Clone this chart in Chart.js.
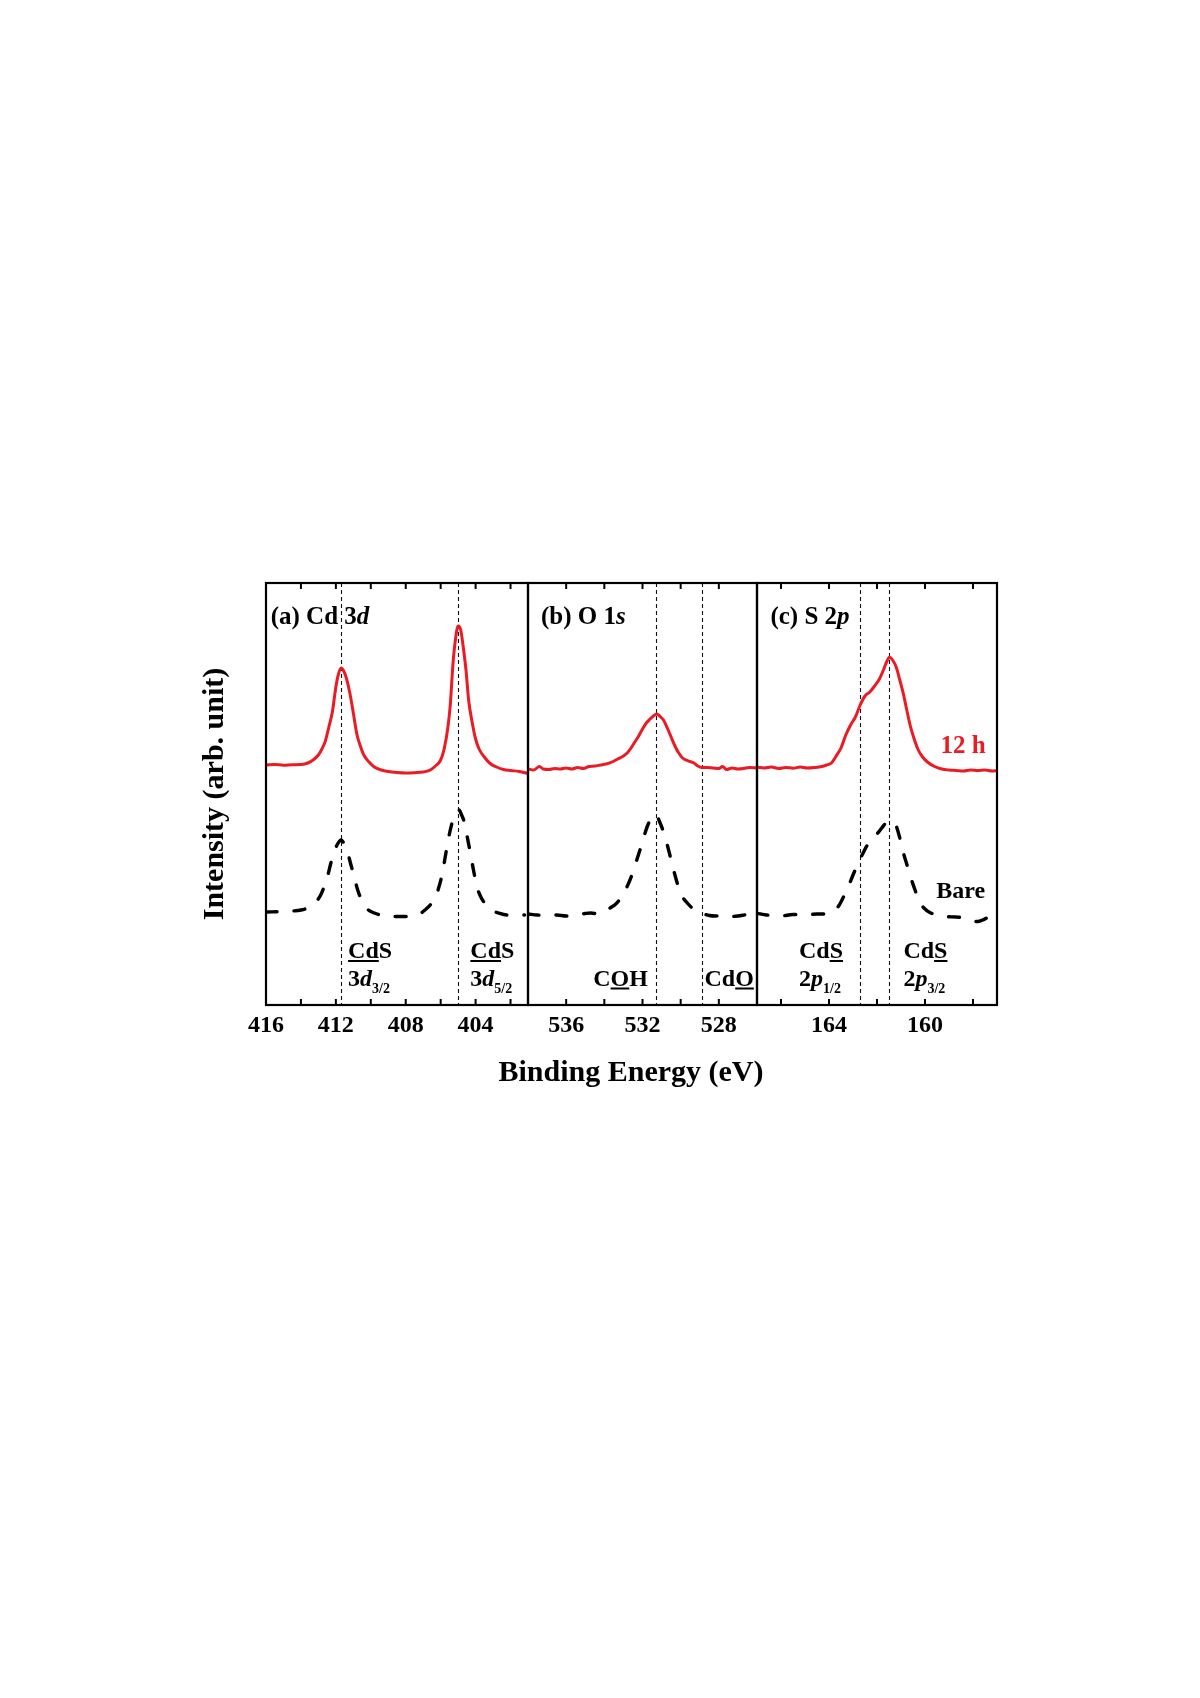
<!DOCTYPE html>
<html>
<head>
<meta charset="utf-8">
<script src="https://cdn.jsdelivr.net/npm/chart.js@4.4.1/dist/chart.umd.min.js"></script>
<style>
  body { margin: 0; background: #fff; }
  #wrap { position: relative; width: 1200px; height: 1698px; }
  canvas { position: absolute; left: 0; top: 0; }
</style>
</head>
<body>
<div id="wrap">
  <canvas id="panelA" width="1200" height="1698"></canvas>
  <canvas id="panelB" width="1200" height="1698"></canvas>
  <canvas id="panelC" width="1200" height="1698"></canvas>
</div>
<script>
// (a) Cd 3d
var cdE12h = [416.0, 415.5, 415.0, 414.5, 414.0, 413.6, 413.3, 413.0, 412.8, 412.6, 412.4, 412.2, 412.0, 411.85, 411.7, 411.55, 411.4, 411.2, 411.0, 410.8, 410.6, 410.4, 410.1, 409.8, 409.4, 409.0, 408.5, 408.0, 407.5, 407.0, 406.6, 406.3, 406.0, 405.8, 405.6, 405.45, 405.3, 405.15, 405.0, 404.85, 404.7, 404.55, 404.4, 404.2, 404.0, 403.8, 403.5, 403.2, 402.8, 402.4, 402.0, 401.5, 401.0];
var cdI12h = [240, 240.5, 239.8, 240.3, 240.5, 242, 245, 250, 256, 264, 278, 293, 318, 331, 337, 334, 327, 312, 292, 271, 259, 250, 243, 238, 235, 233.5, 232.5, 232, 232.3, 233, 235, 239, 245, 256, 276, 300, 340, 366, 379, 375, 357, 335, 305, 283, 266, 256, 248, 242, 238, 235.5, 234.5, 233.5, 231.5];
var cdEBare = [416.0, 415.0, 414.5, 414.0, 413.5, 413.2, 412.9, 412.7, 412.5, 412.3, 412.1, 411.9, 411.7, 411.55, 411.35, 411.15, 410.95, 410.75, 410.5, 410.2, 409.8, 409.3, 408.8, 408.2, 407.6, 407.2, 406.9, 406.6, 406.3, 406.1, 405.9, 405.7, 405.5, 405.3, 405.1, 404.95, 404.8, 404.65, 404.5, 404.3, 404.1, 403.9, 403.7, 403.4, 403.1, 402.7, 402.2, 401.7, 401.2];
var cdIBare = [93, 93.5, 94, 95, 98, 102, 109, 117, 127, 141, 153, 161, 165, 162, 154, 141, 128, 115, 104, 96, 92, 89.5, 88.5, 88.5, 89, 91, 95, 100, 108, 118, 132, 152, 171, 185, 193, 195, 190, 183, 170, 152, 133, 117, 108, 100, 95, 92, 90, 90, 90];

// (b) O 1s
var oE12h = [538.0, 537.7, 537.4, 537.2, 536.9, 536.6, 536.3, 536.0, 535.7, 535.4, 535.1, 534.8, 534.5, 534.2, 533.9, 533.6, 533.3, 533.0, 532.8, 532.6, 532.4, 532.2, 532.0, 531.8, 531.6, 531.4, 531.25, 531.1, 530.9, 530.7, 530.5, 530.3, 530.1, 529.9, 529.6, 529.3, 529.1, 528.9, 528.6, 528.3, 528.0, 527.8, 527.6, 527.3, 527.0, 526.7, 526.4, 526.0];
var oI12h = [236, 235, 238.5, 236, 235.5, 236.5, 236, 237, 236, 237.5, 236.5, 238.5, 239, 240, 241, 243, 246, 249, 252, 257, 263, 269, 276, 282, 286, 289.5, 291, 289, 285, 277, 268, 259, 252, 247, 244, 242, 239, 237.5, 237.5, 237, 236.5, 238.5, 235.5, 237, 236, 236.5, 237.5, 237];
var oEBare = [538.0, 537.5, 537.0, 536.5, 536.0, 535.5, 535.0, 534.7, 534.3, 534.0, 533.7, 533.4, 533.1, 532.9, 532.7, 532.5, 532.3, 532.1, 531.9, 531.7, 531.5, 531.3, 531.1, 530.9, 530.7, 530.5, 530.3, 530.1, 529.9, 529.7, 529.4, 529.1, 528.8, 528.5, 528.2, 527.8, 527.4, 527.0, 526.5, 526.0];
var oIBare = [91, 90, 89.5, 90, 89, 90, 91.5, 92, 91, 93, 97, 101, 108, 115, 123, 133, 145, 157, 170, 181, 188, 190.5, 183, 173, 160, 145, 130, 117, 108, 103, 97, 93, 91, 89.5, 89, 89.5, 88.5, 89, 90.5, 91];

// (c) S 2p
var sE12h = [167.0, 166.7, 166.4, 166.1, 165.8, 165.5, 165.2, 164.9, 164.6, 164.3, 164.1, 163.9, 163.7, 163.5, 163.3, 163.1, 162.9, 162.7, 162.5, 162.3, 162.1, 161.9, 161.75, 161.6, 161.48, 161.35, 161.2, 161.05, 160.9, 160.75, 160.6, 160.45, 160.3, 160.1, 159.9, 159.6, 159.3, 159.0, 158.7, 158.4, 158.1, 157.8, 157.5, 157.2, 157.0];
var sI12h = [237.7, 237, 238, 236.5, 237.5, 236.8, 238, 237, 237.5, 238.5, 240, 242, 249, 257, 270, 280, 288, 300, 309, 313, 319, 326, 334, 343, 347.7, 345, 338, 325, 311, 294, 278, 266, 256, 248, 243, 238.5, 236, 235, 234.5, 234, 235, 234.5, 235, 234, 234.5];
var sEBare = [167.0, 166.6, 166.0, 165.5, 165.0, 164.5, 164.1, 163.8, 163.6, 163.4, 163.2, 163.0, 162.8, 162.6, 162.4, 162.2, 162.0, 161.8, 161.6, 161.5, 161.35, 161.2, 161.05, 160.9, 160.75, 160.6, 160.4, 160.2, 160.0, 159.8, 159.5, 159.1, 158.7, 158.3, 158.0, 157.8, 157.6, 157.45];
var sIBare = [91.7, 90, 89, 90.5, 90, 91, 91, 94, 99, 108, 118, 130, 141, 151, 160, 166, 171, 177, 183, 184.3, 183, 179, 167, 152, 140, 128, 114, 102, 96, 92.5, 90, 88.3, 88, 86.5, 84, 83.5, 85, 86.7];

// axes: ticks, labelled ticks and peak reference lines
var cdTicks = [402, 404, 406, 408, 410, 412, 414, 416];
var cdLabels = [404, 408, 412, 416];
var cdPeaks = [411.7, 405.0];
var oTicks = [528, 530, 532, 534, 536];
var oLabels = [528, 532, 536];
var oPeaks = [531.3, 528.9];
var sTicks = [158, 160, 162, 164, 166];
var sLabels = [160, 164];
var sPeaks = [162.7, 161.5];

var FAMILY = '"Liberation Serif", "Times New Roman", serif';
var RED = '#ea1b23';
Chart.defaults.font.family = FAMILY;

function pts(xs, ys) {
  return xs.map(function (x, i) { return { x: x, y: ys[i] }; });
}

function drawRich(ctx, parts, x, y, color, size) {
  ctx.fillStyle = color;
  ctx.textBaseline = 'alphabetic';
  ctx.textAlign = 'left';
  parts.forEach(function (p) {
    var fs = p.sub ? Math.round(size * 0.58) : size;
    ctx.font = (p.i ? 'italic ' : '') + 'bold ' + fs + 'px ' + FAMILY;
    var dy = p.sub ? Math.round(size * 0.3) : 0;
    ctx.fillText(p.t, x, y + dy);
    var w = ctx.measureText(p.t).width;
    if (p.u) ctx.fillRect(x, y + 2, w, 2);
    x += w;
  });
}

var panelDeco = {
  id: 'panelDeco',
  beforeDatasetsDraw: function (chart) {
    var o = chart.options.plugins.panelDeco, ctx = chart.ctx, a = chart.chartArea, sx = chart.scales.x;
    ctx.save();
    ctx.strokeStyle = '#111';
    ctx.lineWidth = 1.1;
    ctx.setLineDash([4, 3]);
    o.refLines.forEach(function (v) {
      var px = Math.round(sx.getPixelForValue(v)) + 0.5;
      ctx.beginPath();
      ctx.moveTo(px, a.top);
      ctx.lineTo(px, a.bottom);
      ctx.stroke();
    });
    ctx.restore();
  },
  afterDatasetsDraw: function (chart) {
    var o = chart.options.plugins.panelDeco, ctx = chart.ctx, a = chart.chartArea;
    var sx = chart.scales.x, sy = chart.scales.y;
    ctx.save();
    // inner ticks, top and bottom
    ctx.strokeStyle = '#000';
    ctx.lineWidth = 2;
    sx.ticks.forEach(function (t) {
      var px = sx.getPixelForValue(t.value);
      if (px <= a.left + 2 || px >= a.right - 2) return;
      ctx.beginPath();
      ctx.moveTo(px, a.bottom);
      ctx.lineTo(px, a.bottom - 6);
      ctx.moveTo(px, a.top);
      ctx.lineTo(px, a.top + 6);
      ctx.stroke();
    });
    // frame
    ctx.lineWidth = 2.2;
    ctx.strokeRect(a.left, a.top, a.right - a.left, a.bottom - a.top);
    // labels inside the panel
    o.texts.forEach(function (t) {
      drawRich(ctx, t.parts, sx.getPixelForValue(t.x), sy.getPixelForValue(t.y), t.color || '#000', t.size || 24);
    });
    // shared axis titles
    if (o.titles) {
      ctx.fillStyle = '#000';
      ctx.font = 'bold 30px ' + FAMILY;
      ctx.textAlign = 'center';
      ctx.textBaseline = 'alphabetic';
      ctx.fillText('Binding Energy (eV)', 631, 1081);
      ctx.translate(223, 794);
      ctx.rotate(-Math.PI / 2);
      ctx.fillText('Intensity (arb. unit)', 0, 0);
    }
    ctx.restore();
  }
};

function makePanel(id, cfg) {
  return new Chart(document.getElementById(id), {
    type: 'line',
    data: {
      datasets: [
        {
          label: '12 h',
          data: pts(cfg.e12h, cfg.i12h),
          borderColor: RED,
          borderWidth: 3,
          pointRadius: 0,
          cubicInterpolationMode: 'monotone'
        },
        {
          label: 'Bare',
          data: pts(cfg.eBare, cfg.iBare),
          borderColor: '#000',
          borderWidth: 3.4,
          borderDash: [11, 17],
          borderCapStyle: 'round',
          pointRadius: 0,
          cubicInterpolationMode: 'monotone'
        }
      ]
    },
    options: {
      responsive: false,
      animation: false,
      devicePixelRatio: 1,
      layout: { padding: { left: cfg.left, right: 1200 - cfg.right, top: 583, bottom: 1698 - 1005 - 40 } },
      plugins: {
        legend: { display: false },
        tooltip: { enabled: false },
        panelDeco: { refLines: cfg.peaks, texts: cfg.texts, titles: cfg.titles }
      },
      scales: {
        x: {
          type: 'linear',
          reverse: true,
          min: cfg.min,
          max: cfg.max,
          afterBuildTicks: function (s) { s.ticks = cfg.ticks.map(function (v) { return { value: v }; }); },
          afterFit: function (s) { s.height = 40; },
          grid: { display: false, drawTicks: false },
          border: { display: false },
          ticks: {
            autoSkip: false,
            maxRotation: 0,
            padding: 6,
            color: '#000',
            font: { size: 24, weight: 'bold' },
            callback: function (v) { return cfg.labels.indexOf(v) >= 0 ? String(v) : ''; }
          }
        },
        y: { display: false, min: 0, max: 422 }
      }
    },
    plugins: [panelDeco]
  });
}

makePanel('panelA', {
  left: 266, right: 528, min: 401, max: 416,
  e12h: cdE12h, i12h: cdI12h, eBare: cdEBare, iBare: cdIBare,
  ticks: cdTicks, labels: cdLabels, peaks: cdPeaks, titles: true,
  texts: [
    { x: 415.73, y: 381, size: 25, parts: [{ t: '(a) Cd 3' }, { t: 'd', i: true }] },
    { x: 411.3, y: 47, parts: [{ t: 'Cd', u: true }, { t: 'S' }] },
    { x: 411.3, y: 19.5, parts: [{ t: '3' }, { t: 'd', i: true }, { t: '3/2', sub: true }] },
    { x: 404.3, y: 47, parts: [{ t: 'Cd', u: true }, { t: 'S' }] },
    { x: 404.3, y: 19.5, parts: [{ t: '3' }, { t: 'd', i: true }, { t: '5/2', sub: true }] }
  ]
});

makePanel('panelB', {
  left: 528, right: 757, min: 526, max: 538,
  e12h: oE12h, i12h: oI12h, eBare: oEBare, iBare: oIBare,
  ticks: oTicks, labels: oLabels, peaks: oPeaks,
  texts: [
    { x: 537.32, y: 381, size: 25, parts: [{ t: '(b) O 1' }, { t: 's', i: true }] },
    { x: 534.58, y: 19.5, parts: [{ t: 'C' }, { t: 'O', u: true }, { t: 'H' }] },
    { x: 528.75, y: 19.5, parts: [{ t: 'Cd' }, { t: 'O', u: true }] }
  ]
});

makePanel('panelC', {
  left: 757, right: 997, min: 157, max: 167,
  e12h: sE12h, i12h: sI12h, eBare: sEBare, iBare: sIBare,
  ticks: sTicks, labels: sLabels, peaks: sPeaks,
  texts: [
    { x: 166.44, y: 381, size: 25, parts: [{ t: '(c) S 2' }, { t: 'p', i: true }] },
    { x: 165.25, y: 47, parts: [{ t: 'Cd' }, { t: 'S', u: true }] },
    { x: 165.25, y: 19.5, parts: [{ t: '2' }, { t: 'p', i: true }, { t: '1/2', sub: true }] },
    { x: 160.9, y: 47, parts: [{ t: 'Cd' }, { t: 'S', u: true }] },
    { x: 160.9, y: 19.5, parts: [{ t: '2' }, { t: 'p', i: true }, { t: '3/2', sub: true }] },
    { x: 159.35, y: 252, size: 25, color: RED, parts: [{ t: '12 h' }] },
    { x: 159.53, y: 107, parts: [{ t: 'Bare' }] }
  ]
});
</script>
</body>
</html>
